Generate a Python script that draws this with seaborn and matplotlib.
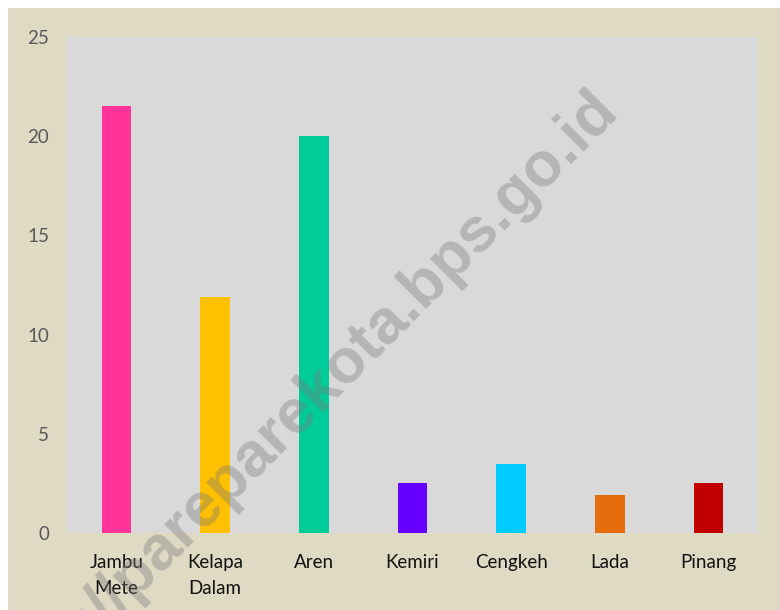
import matplotlib
matplotlib.use("Agg")
import matplotlib.pyplot as plt
import seaborn as sns
import pandas as pd
from matplotlib.patches import Rectangle

# data
komoditas = ["Jambu\nMete", "Kelapa\nDalam", "Aren", "Kemiri", "Cengkeh", "Lada", "Pinang"]
nilai = [21.5, 11.9, 20.0, 2.5, 3.5, 1.9, 2.5]
warna = ["#FF3399", "#FFC000", "#00CC99", "#6600FF", "#00CCFF", "#E46C0A", "#C00000"]
y_ticks = [0, 5, 10, 15, 20, 25]

df = pd.DataFrame({"komoditas": komoditas, "nilai": nilai})

sns.set_theme(style="white")
plt.rcParams["font.family"] = ["Lato", "DejaVu Sans"]

fig = plt.figure(figsize=(7.8, 6.1), dpi=100)
fig.patch.set_facecolor("white")
# beige chart area
bg = Rectangle((8 / 780, 0), 1, 1 - 8 / 610, transform=fig.transFigure,
               facecolor="#DEDAC4", edgecolor="none", zorder=-5)
fig.patches.append(bg)

ax = fig.add_axes([67 / 780, 1 - 533 / 610, 691 / 780, 496 / 610])
ax.set_zorder(1)
ax.set_facecolor("#D9D9D9")

sns.barplot(data=df, x="komoditas", y="nilai", hue="komoditas", palette=warna,
            legend=False, width=0.3, saturation=1, linewidth=0, ax=ax)

ax.set_ylim(0, 25)
ax.set_yticks(y_ticks)
ax.set_xlabel("")
ax.set_ylabel("")
for s in ax.spines.values():
    s.set_visible(False)
ax.tick_params(axis="y", length=0, pad=13, labelsize=13.5, labelcolor="#595959")
ax.tick_params(axis="x", length=0, pad=15, labelsize=13.5, labelcolor="#111111")
for lbl in ax.get_xticklabels():
    lbl.set_linespacing(1.65)
ax.grid(False)

# watermark
wm = fig.text(620 / 780, 1 - 112 / 610, "https://pareparekota.bps.go.id", fontsize=45,
              fontweight="bold", family=["Liberation Sans", "DejaVu Sans"],
              color="#7a7a7a", alpha=0.38, rotation=45, rotation_mode="anchor",
              ha="right", va="baseline")
wm.set_zorder(10)

fig.savefig("out.png", dpi=100)
